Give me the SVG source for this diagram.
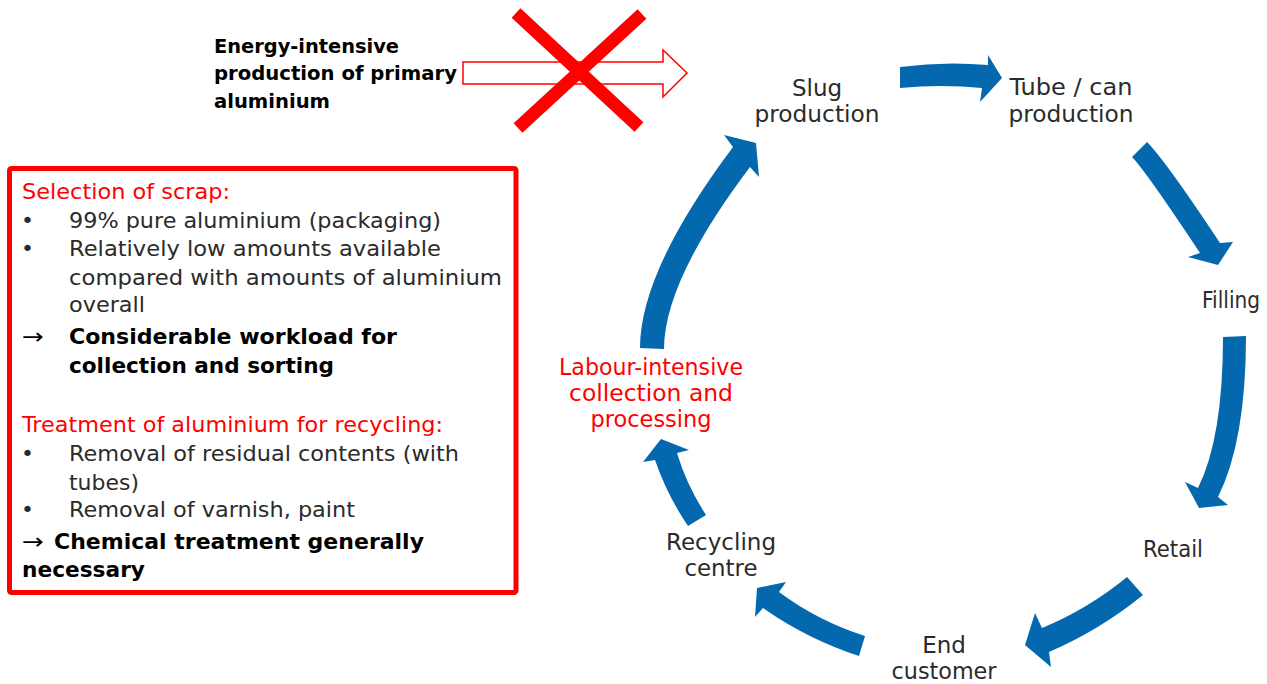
<svg xmlns="http://www.w3.org/2000/svg" width="1267" height="684" viewBox="0 0 1267 684">
<style>
text{font-family:"DejaVu Sans","Liberation Sans",sans-serif}
.g{fill:#2b2b2b;font-size:22px}
.gb{fill:#000;font-size:22px;font-weight:bold}
.ar{fill:#000;font-size:22px}
.r{fill:#ff0000;font-size:22px}
.lab{fill:#2b2b2b;font-size:23px;text-anchor:middle}
.labr{fill:#ff0000;font-size:23px;text-anchor:middle}
.arr{fill:#0468ae;stroke:none}
</style>
<rect width="1267" height="684" fill="#fff"/>
<g id="primary-aluminium">
<text class="gb" style="font-size:20px"><tspan x="214" y="53" textLength="185" lengthAdjust="spacingAndGlyphs">Energy-intensive</tspan><tspan x="214" y="80" textLength="243" lengthAdjust="spacingAndGlyphs">production of primary</tspan><tspan x="214" y="108" textLength="116" lengthAdjust="spacingAndGlyphs">aluminium</tspan></text>
<path d="M463,62 L663,62 L663,50 L687,73 L663,97 L663,84 L463,84 Z" fill="#fff" stroke="#ff0000" stroke-width="1.5"/>
<path d="M516,13 L639,127 M642,14 L518,128" stroke="#ff0000" stroke-width="13" fill="none"/>
</g>
<g id="info-box">
<rect x="9.5" y="168.5" width="506.5" height="424" rx="2" fill="#fff" stroke="#ff0000" stroke-width="5"/>
<text class="r" x="22" y="199" textLength="208" lengthAdjust="spacingAndGlyphs">Selection of scrap:</text>
<text class="g" x="21" y="228">•</text>
<text class="g" x="69" y="228" textLength="372" lengthAdjust="spacingAndGlyphs">99% pure aluminium (packaging)</text>
<text class="g" x="21" y="256">•</text>
<text class="g" x="69" y="256" textLength="372" lengthAdjust="spacingAndGlyphs">Relatively low amounts available</text>
<text class="g" x="69" y="285" textLength="433" lengthAdjust="spacingAndGlyphs">compared with amounts of aluminium</text>
<text class="g" x="69" y="312" textLength="76" lengthAdjust="spacingAndGlyphs">overall</text>
<text class="ar" x="22" y="344" textLength="22" lengthAdjust="spacingAndGlyphs">→</text>
<text class="gb" x="69" y="344" textLength="328" lengthAdjust="spacingAndGlyphs">Considerable workload for</text>
<text class="gb" x="69" y="373" textLength="265" lengthAdjust="spacingAndGlyphs">collection and sorting</text>
<text class="r" x="22" y="432" textLength="421" lengthAdjust="spacingAndGlyphs">Treatment of aluminium for recycling:</text>
<text class="g" x="21" y="461">•</text>
<text class="g" x="69" y="461" textLength="390" lengthAdjust="spacingAndGlyphs">Removal of residual contents (with</text>
<text class="g" x="69" y="490" textLength="70" lengthAdjust="spacingAndGlyphs">tubes)</text>
<text class="g" x="21" y="517">•</text>
<text class="g" x="69" y="517" textLength="286" lengthAdjust="spacingAndGlyphs">Removal of varnish, paint</text>
<text class="ar" x="22" y="549" textLength="22" lengthAdjust="spacingAndGlyphs">→</text>
<text class="gb" x="54" y="549" textLength="370" lengthAdjust="spacingAndGlyphs">Chemical treatment generally</text>
<text class="gb" x="22" y="577" textLength="123" lengthAdjust="spacingAndGlyphs">necessary</text>
</g>
<g id="connectors">
<path class="arr" d="M900,67 Q944,61 988,65 L988,55 L1002,78 L980,102 L982,88 Q941,84 900,88 Z"/>
<path class="arr" d="M1147,142 Q1165,160 1220,243 L1233,242 L1218,265 L1188,257 L1200,253 Q1145,170 1132,157 Z"/>
<path class="arr" d="M1223,337 L1246,336 Q1246,441 1218,497 L1228,505 L1199,508 L1185,482 L1198,488 Q1223,438 1223,337 Z"/>
<path class="arr" d="M1127,577 Q1088,609 1042,628 L1035,613 L1025,645 L1051,667 L1049,652 Q1100,630 1143,595 Z"/>
<path class="arr" d="M865,636 Q818,621 779,592 L786,582 L757,588 L755,617 L763,608 Q807,639 859,656 Z"/>
<path class="arr" d="M688,526 Q667,495 655,460 L643,462 L661,439 L689,450 L677,453 Q687,486 706,515 Z"/>
<path class="arr" d="M640,348 Q640,271 733,147 L724,135 L756,143 L759,177 L750,167 Q664,281 664,349 Z"/>
</g>
<g id="slug-production"><text class="lab"><tspan x="817" y="96">Slug</tspan><tspan x="817" y="122" textLength="125" lengthAdjust="spacingAndGlyphs">production</tspan></text></g>
<g id="tube-can-production"><text class="lab"><tspan x="1071" y="95" textLength="123" lengthAdjust="spacingAndGlyphs">Tube / can</tspan><tspan x="1071" y="122" textLength="125" lengthAdjust="spacingAndGlyphs">production</tspan></text></g>
<g id="filling"><text class="lab" x="1231" y="308" textLength="58" lengthAdjust="spacingAndGlyphs">Filling</text></g>
<g id="retail"><text class="lab" x="1173" y="557" textLength="60" lengthAdjust="spacingAndGlyphs">Retail</text></g>
<g id="end-customer"><text class="lab"><tspan x="944" y="653">End</tspan><tspan x="944" y="679" textLength="105" lengthAdjust="spacingAndGlyphs">customer</tspan></text></g>
<g id="recycling-centre"><text class="lab"><tspan x="721" y="550" textLength="110" lengthAdjust="spacingAndGlyphs">Recycling</tspan><tspan x="721" y="576" textLength="73" lengthAdjust="spacingAndGlyphs">centre</tspan></text></g>
<g id="labour-intensive"><text class="labr"><tspan x="651" y="375" textLength="184" lengthAdjust="spacingAndGlyphs">Labour-intensive</tspan><tspan x="651" y="401" textLength="164" lengthAdjust="spacingAndGlyphs">collection and</tspan><tspan x="651" y="427" textLength="121" lengthAdjust="spacingAndGlyphs">processing</tspan></text></g>
</svg>
